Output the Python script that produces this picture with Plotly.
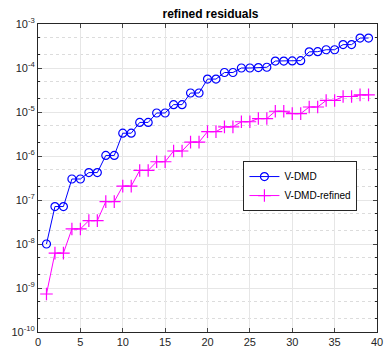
import plotly.graph_objects as go

iters = list(range(1, 40))
vdmd = [1.0e-8, 7.1e-8, 7.1e-8, 3.0e-7, 3.0e-7, 4.2e-7, 4.2e-7, 1.03e-6, 1.03e-6,
        3.3e-6, 3.3e-6, 5.8e-6, 5.8e-6, 9.5e-6, 9.5e-6, 1.47e-5, 1.47e-5, 2.7e-5, 2.7e-5,
        5.6e-5, 5.6e-5, 7.9e-5, 7.9e-5, 1.0e-4, 1.0e-4, 1.02e-4, 1.04e-4,
        1.44e-4, 1.44e-4, 1.45e-4, 1.47e-4, 2.33e-4, 2.35e-4, 2.6e-4, 2.6e-4,
        3.4e-4, 3.4e-4, 4.8e-4, 4.8e-4]
vdmd_ref = [7.3e-10, 6.2e-9, 6.2e-9, 2.2e-8, 2.2e-8, 3.4e-8, 3.4e-8, 9.2e-8, 9.2e-8,
            2.07e-7, 2.07e-7, 4.7e-7, 4.7e-7, 7.4e-7, 7.4e-7, 1.3e-6, 1.3e-6, 2.07e-6, 2.07e-6,
            3.58e-6, 3.58e-6, 4.6e-6, 4.6e-6, 6.0e-6, 6.0e-6, 7.1e-6, 7.1e-6,
            1.04e-5, 1.04e-5, 9.2e-6, 9.2e-6, 1.3e-5, 1.3e-5, 1.83e-5, 1.83e-5,
            2.25e-5, 2.25e-5, 2.45e-5, 2.45e-5]
xticks = [0, 5, 10, 15, 20, 25, 30, 35, 40]
yexps = [-10, -9, -8, -7, -6, -5, -4, -3]

font = "Liberation Sans, Arial, sans-serif"
fig = go.Figure()
fig.add_trace(go.Scatter(x=iters, y=vdmd, mode="lines+markers", name="V-DMD",
                         line=dict(color="#0000ff", width=1),
                         marker=dict(symbol="circle-open", size=8, color="#0000ff",
                                     line=dict(width=1.2))))
fig.add_trace(go.Scatter(x=iters, y=vdmd_ref, mode="lines+markers", name="V-DMD-refined",
                         line=dict(color="#ff00ff", width=1),
                         marker=dict(symbol="cross-thin-open", size=9, color="#ff00ff",
                                     line=dict(width=1.2, color="#ff00ff"))))

fig.update_layout(
    width=391, height=356,
    margin=dict(l=38, r=8, t=24, b=19),
    paper_bgcolor="white", plot_bgcolor="white",
    font=dict(family=font, size=11, color="#262626"),
    title=dict(text="<b>refined residuals</b>", x=(38 + 383) / 2 / 391, xanchor="center",
               y=1 - 14 / 356, yanchor="middle", yref="container",
               font=dict(size=12, color="black")),
    legend=dict(x=0.606, y=0.555, xanchor="left", yanchor="top",
                bgcolor="white", bordercolor="#262626", borderwidth=1,
                font=dict(size=10, color="black"), tracegroupgap=0),
)
fig.update_xaxes(range=[0, 40], tickvals=xticks, ticks="inside", ticklen=4,
                 showline=True, linecolor="#262626", linewidth=1, mirror="ticks",
                 showgrid=True, gridcolor="#e6e6e6", gridwidth=1, zeroline=False,
                 tickfont=dict(size=11))
fig.update_yaxes(type="log", range=[-10, -3],
                 tickvals=[10.0 ** e for e in yexps],
                 ticktext=["10<sup>%d</sup>" % e for e in yexps],
                 ticks="inside", ticklen=4,
                 showline=True, linecolor="#262626", linewidth=1, mirror="ticks",
                 showgrid=True, gridcolor="#e6e6e6", gridwidth=1, zeroline=False,
                 minor=dict(ticks="inside", ticklen=2, showgrid=True,
                            gridcolor="#dcdcdc", griddash="dot", tickcolor="#262626"),
                 tickfont=dict(size=11))
fig.write_html("out.html")
